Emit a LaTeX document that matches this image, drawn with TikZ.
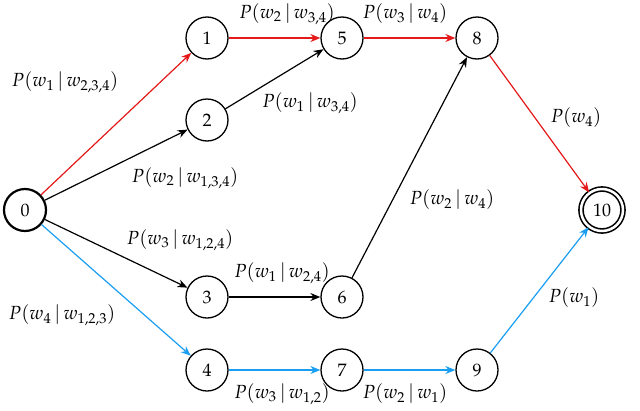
\documentclass[tikz,border=0pt]{standalone}
\usepackage[T1]{fontenc}
\usepackage{mathpazo}
\usetikzlibrary{arrows.meta}
\definecolor{pred}{rgb}{0.9,0.1,0.1}
\definecolor{pblue}{rgb}{0.1,0.62,0.95}
\tikzstyle{state}=[circle, draw=black, line width=1.3pt, minimum size=42pt, inner sep=0pt, font=\fontfamily{ppl}\fontsize{18}{20}\selectfont]
\tikzstyle{final}=[state, double, line width=1.6pt, double distance=2.5pt]
\tikzstyle{arrow}=[-{Stealth[length=10pt,width=8pt]}, line width=1.2pt]
\tikzstyle{lab}=[font=\fontfamily{ppl}\fontsize{19}{21}\selectfont, inner sep=0pt]

\begin{document}
\begin{tikzpicture}[x=1pt, y=-1pt]
            \useasboundingbox (0,0) rectangle (640,410);
                \node [style=state, line width=2.2pt] (0) at (25, 210) {0};
                \node [style=state] (1) at (207, 38) {1};
                \node [style=state] (2) at (207, 120) {2};
                \node [style=state] (3) at (207, 297) {3};
                \node [style=state] (4) at (207, 370) {4};
                \node [style=state] (5) at (342, 38) {5};
                \node [style=state] (6) at (342, 297) {6};
                \node [style=state] (7) at (342, 370) {7};
                \node [style=state] (8) at (477, 38) {8};
                \node [style=state] (9) at (477, 370) {9};
                \node [style=final] (10) at (602, 210) {10};

                \draw [style=arrow, pred] (0) to (1);
                \draw [style=arrow, pred] (1) to (5);
                \draw [style=arrow, pred] (5) to (8);
                \draw [style=arrow, pred] (8) to (10);
                \draw [style=arrow] (0) to (2);
                \draw [style=arrow] (0) to (3);
                \draw [style=arrow] (2) to (5);
                \draw [style=arrow] (3) to (6);
                \draw [style=arrow] (6) to (8);
                \draw [style=arrow, pblue] (0) to (4);
                \draw [style=arrow, pblue] (4) to (7);
                \draw [style=arrow, pblue] (7) to (9);
                \draw [style=arrow, pblue] (9) to (10);

                \node [style=lab] (l01) at (65, 82) {$P(w_1\,|\,w_{2,3,4})$};
                \node [style=lab] (l15) at (287, 14) {$P(w_2\,|\,w_{3,4})$};
                \node [style=lab] (l58) at (405, 14) {$P(w_3\,|\,w_4)$};
                \node [style=lab] (l25) at (310, 103) {$P(w_1\,|\,w_{3,4})$};
                \node [style=lab] (l02) at (185, 178) {$P(w_2\,|\,w_{1,3,4})$};
                \node [style=lab] (l03) at (180, 240) {$P(w_3\,|\,w_{1,2,4})$};
                \node [style=lab] (l04) at (62, 315) {$P(w_4\,|\,w_{1,2,3})$};
                \node [style=lab] (l36) at (282, 273) {$P(w_1\,|\,w_{2,4})$};
                \node [style=lab] (l68) at (452, 200) {$P(w_2\,|\,w_4)$};
                \node [style=lab] (l810) at (576, 118) {$P(w_4)$};
                \node [style=lab] (l910) at (574, 298) {$P(w_1)$};
                \node [style=lab] (l47) at (282, 394) {$P(w_3\,|\,w_{1,2})$};
                \node [style=lab] (l79) at (405, 394) {$P(w_2\,|\,w_1)$};
        \end{tikzpicture}
\end{document}
